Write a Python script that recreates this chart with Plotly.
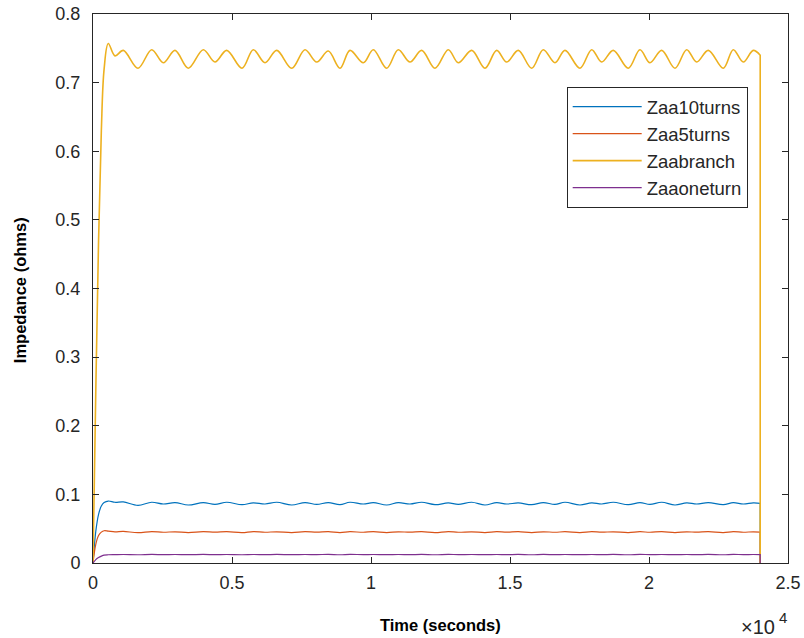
import plotly.graph_objects as go

# ---- data (time in seconds, impedance in ohms) ----
time_s = [0, 100, 200, 300, 400, 550, 791, 1090,
          1619, 2111, 2529, 2950,
          3428, 3967, 4388, 4809,
          5360, 5766, 6187, 6608,
          7147, 7626, 8047, 8464,
          8885, 9244, 9723, 10083,
          10564, 10982, 11402, 11823,
          12302, 12780, 13140, 13622,
          14100, 14521, 14881, 15298,
          15780, 16197, 16618, 16978,
          17517, 17938, 18298, 18715,
          19255, 19675, 20035, 20456,
          20935, 21355, 21716, 22132,
          22673, 23031, 23392, 23750,
          24000, 24000, 24000]

zaa10turns = [0, 0.046, 0.071, 0.083, 0.088, 0.0903, 0.0885, 0.0890,
              0.0840, 0.0885, 0.0860, 0.0880,
              0.0845, 0.0880, 0.0855, 0.0885,
              0.0850, 0.0875, 0.0860, 0.0885,
              0.0845, 0.0880, 0.0855, 0.0880,
              0.0850, 0.0885, 0.0860, 0.0880,
              0.0845, 0.0880, 0.0860, 0.0885,
              0.0850, 0.0875, 0.0855, 0.0885,
              0.0845, 0.0880, 0.0860, 0.0875,
              0.0850, 0.0880, 0.0855, 0.0885,
              0.0845, 0.0875, 0.0860, 0.0885,
              0.0850, 0.0880, 0.0855, 0.0885,
              0.0845, 0.0875, 0.0860, 0.0880,
              0.0850, 0.0880, 0.0860, 0.0875,
              0.0870, 0.0870, 0]

zaa5turns = [0, 0.027, 0.040, 0.045, 0.047, 0.0465, 0.0455, 0.0460,
             0.0442, 0.0458, 0.0448, 0.0455,
             0.0444, 0.0457, 0.0449, 0.0456,
             0.0443, 0.0458, 0.0448, 0.0455,
             0.0444, 0.0457, 0.0449, 0.0456,
             0.0443, 0.0456, 0.0448, 0.0457,
             0.0444, 0.0455, 0.0449, 0.0456,
             0.0443, 0.0458, 0.0448, 0.0455,
             0.0444, 0.0456, 0.0449, 0.0457,
             0.0443, 0.0455, 0.0448, 0.0456,
             0.0444, 0.0458, 0.0449, 0.0455,
             0.0443, 0.0456, 0.0448, 0.0457,
             0.0444, 0.0455, 0.0449, 0.0456,
             0.0443, 0.0457, 0.0448, 0.0455,
             0.0450, 0.0450, 0]

zaabranch = [0, 0.25, 0.47, 0.63, 0.72, 0.757, 0.739, 0.747,
             0.721, 0.748, 0.729, 0.747,
             0.721, 0.748, 0.730, 0.747,
             0.721, 0.748, 0.729, 0.747,
             0.721, 0.748, 0.730, 0.746,
             0.721, 0.747, 0.729, 0.748,
             0.721, 0.748, 0.730, 0.747,
             0.721, 0.748, 0.729, 0.747,
             0.721, 0.747, 0.730, 0.747,
             0.721, 0.748, 0.729, 0.747,
             0.721, 0.748, 0.730, 0.747,
             0.721, 0.748, 0.729, 0.747,
             0.721, 0.748, 0.730, 0.747,
             0.721, 0.748, 0.730, 0.747,
             0.740, 0.740, 0]

zaaoneturn = [0, 0.005, 0.008, 0.010, 0.0115, 0.0120, 0.0122, 0.0124,
              0.0120, 0.0125, 0.0122, 0.0124,
              0.0121, 0.0125, 0.0122, 0.0124,
              0.0120, 0.0124, 0.0122, 0.0125,
              0.0121, 0.0124, 0.0122, 0.0125,
              0.0120, 0.0125, 0.0122, 0.0124,
              0.0121, 0.0124, 0.0122, 0.0125,
              0.0120, 0.0125, 0.0122, 0.0124,
              0.0121, 0.0124, 0.0122, 0.0125,
              0.0120, 0.0125, 0.0122, 0.0124,
              0.0121, 0.0124, 0.0122, 0.0125,
              0.0120, 0.0125, 0.0122, 0.0124,
              0.0121, 0.0124, 0.0122, 0.0125,
              0.0120, 0.0125, 0.0122, 0.0124,
              0.0122, 0.0122, 0]

series_names = ["Zaa10turns", "Zaa5turns", "Zaabranch", "Zaaoneturn"]
series_values = [zaa10turns, zaa5turns, zaabranch, zaaoneturn]
series_colors = ["#0072BD", "#D95319", "#EDB120", "#7E2F8E"]
series_widths = [1.2, 1.2, 1.6, 1.2]

x_tick_vals = [0, 5000, 10000, 15000, 20000, 25000]
x_tick_text = ["0", "0.5", "1", "1.5", "2", "2.5"]
y_tick_vals = [0, 0.1, 0.2, 0.3, 0.4, 0.5, 0.6, 0.7, 0.8]
y_tick_text = ["0", "0.1", "0.2", "0.3", "0.4", "0.5", "0.6", "0.7", "0.8"]

FONT = "Liberation Sans, Arial, sans-serif"
AX = "#262626"

fig = go.Figure()
for name, vals, col, w in zip(series_names, series_values, series_colors, series_widths):
    assert len(vals) == len(time_s)
    fig.add_trace(go.Scatter(
        x=time_s, y=vals, mode="lines", name=name, legendgroup=name,
        line=dict(color=col, width=w, shape="spline", smoothing=1.0, simplify=False),
    ))

axis_common = dict(
    showline=True, linecolor=AX, linewidth=1, mirror="ticks",
    ticks="inside", ticklen=6, tickcolor=AX, tickwidth=1,
    showgrid=False, zeroline=False, automargin=False,
    tickfont=dict(family=FONT, size=18, color=AX),
)

fig.update_layout(
    template="none",
    width=804, height=638,
    margin=dict(l=93, r=16, t=14, b=75),
    paper_bgcolor="white", plot_bgcolor="white",
    showlegend=True,
    legend=dict(
        x=0.942, y=0.867, xanchor="right", yanchor="top",
        bgcolor="white", bordercolor=AX, borderwidth=1,
        font=dict(family=FONT, size=18.5, color=AX),
        itemwidth=69, traceorder="normal",
    ),
    xaxis=dict(range=[0, 25000], tickvals=x_tick_vals, ticktext=x_tick_text,
               ticklabelstandoff=3, **axis_common),
    yaxis=dict(range=[0, 0.8], tickvals=y_tick_vals, ticktext=y_tick_text,
               ticklabelstandoff=8, **axis_common),
    annotations=[
        dict(text="<b>Time (seconds)</b>", xref="paper", yref="paper", x=0.5, y=0,
             xanchor="center", yanchor="middle", yshift=-62, showarrow=False,
             font=dict(family=FONT, size=16.5, color="#000000")),
        dict(text="<b>Impedance (ohms)</b>", xref="paper", yref="paper", x=0, y=0.497,
             xanchor="center", yanchor="middle", xshift=-73, textangle=-90, showarrow=False,
             font=dict(family=FONT, size=16.5, color="#000000")),
        dict(text="×10", xref="paper", yref="paper", x=1, y=0,
             xanchor="right", yanchor="middle", xshift=-11, yshift=-64, showarrow=False,
             font=dict(family=FONT, size=20, color=AX)),
        dict(text="4", xref="paper", yref="paper", x=1, y=0,
             xanchor="left", yanchor="middle", xshift=-11, yshift=-54, showarrow=False,
             font=dict(family=FONT, size=15, color=AX)),
    ],
)

fig.write_html("out.html")
